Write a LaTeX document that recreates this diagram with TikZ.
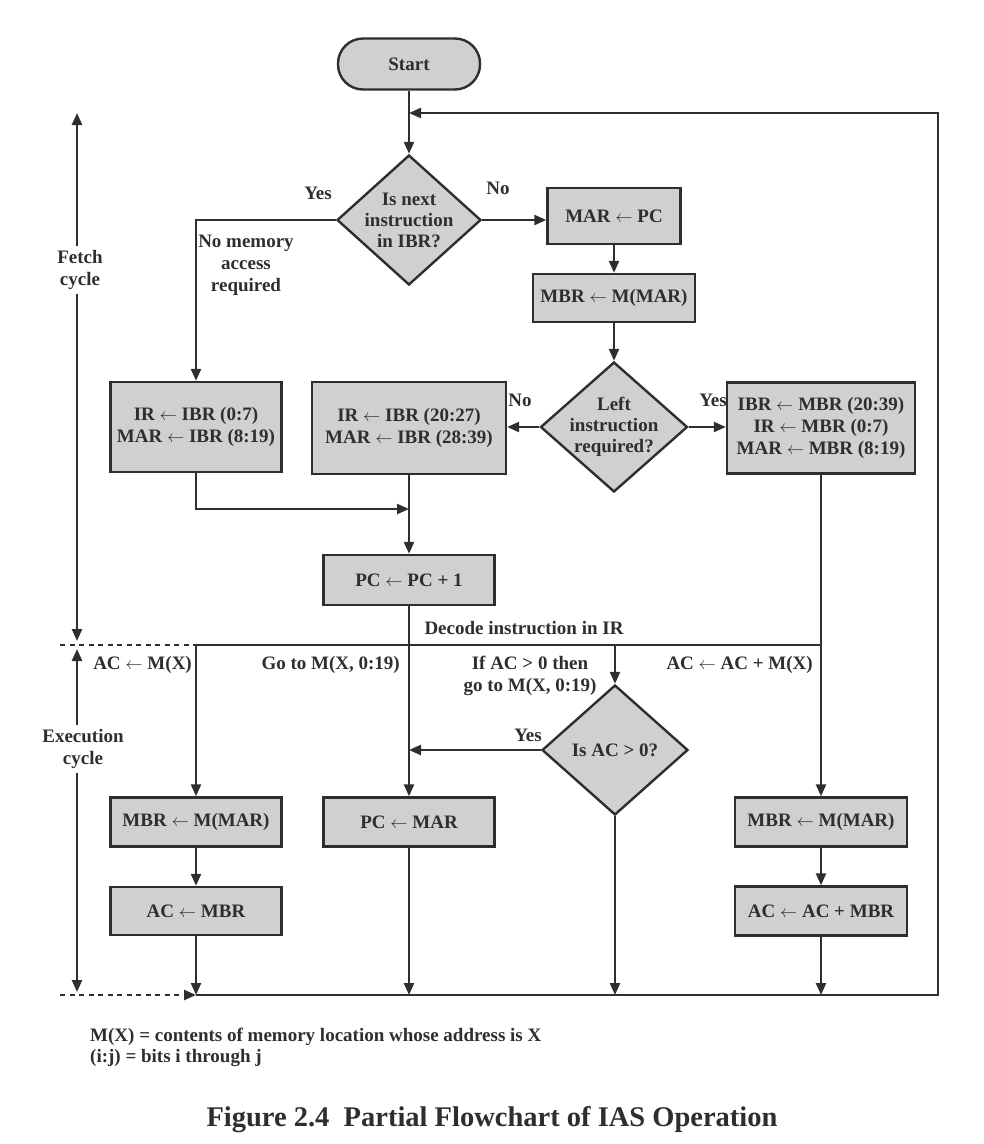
\documentclass[tikz,border=0pt]{standalone}
\usepackage{fontspec}
\setmainfont{Liberation Serif}
\usetikzlibrary{shapes.geometric,arrows.meta}
\definecolor{boxgray}{HTML}{D0D0D0}
\definecolor{ink}{HTML}{2E2E2E}
\begin{document}
\begin{tikzpicture}[x=1pt,y=-1pt,line width=2.4pt,draw=ink,
  txt/.style={font=\bfseries\fontsize{19}{22}\selectfont, text=ink, inner sep=1pt, align=center},
  box/.style={txt, draw=ink, fill=boxgray, minimum width=171pt, minimum height=49pt, inner sep=2pt},
  dia/.style={txt, font=\bfseries\fontsize{19}{21}\selectfont, shape=diamond, draw=ink, fill=boxgray, aspect=1.1, inner xsep=-6pt, inner ysep=-6pt, minimum width=146pt, minimum height=130pt},
  arr/.style={-{Triangle[length=12pt,width=10pt]}},
  dblarr/.style={{Triangle[length=12pt,width=10pt]}-{Triangle[length=12pt,width=10pt]}},
  dsh/.style={dash pattern=on 5pt off 4.5pt}
]
\useasboundingbox (0,0) rectangle (984,1144);

% ---- nodes ----
\node[txt, draw=ink, fill=boxgray, rounded corners=25pt, minimum width=142pt, minimum height=51pt] (start) at (409,64) {Start};
\node[dia, minimum width=144pt] (d1) at (409,220) {Is next\\instruction\\in IBR?};
\node[box, minimum width=133pt, minimum height=56pt] (marpc) at (614,216) {MAR $\leftarrow$ PC};
\node[box, minimum width=162pt, minimum height=48pt] (mbr1) at (614,298) {MBR $\leftarrow$ M(MAR)};
\node[dia, minimum width=147pt] (d2) at (614,427) {Left\\instruction\\required?};
\node[box, minimum width=171pt, minimum height=90pt] (ir1) at (196,427) {IR $\leftarrow$ IBR (0:7)\\MAR $\leftarrow$ IBR (8:19)};
\node[box, minimum width=194pt, minimum height=92pt] (ir2) at (409,428) {IR $\leftarrow$ IBR (20:27)\\MAR $\leftarrow$ IBR (28:39)};
\node[box, minimum width=188pt, minimum height=91pt] (ibr) at (821,428) {IBR $\leftarrow$ MBR (20:39)\\IR $\leftarrow$ MBR (0:7)\\MAR $\leftarrow$ MBR (8:19)};
\node[box, minimum height=50pt] (pc1) at (409,580) {PC $\leftarrow$ PC + 1};
\node[box] (mbrL) at (196,822) {MBR $\leftarrow$ M(MAR)};
\node[box, minimum height=48pt] (acL) at (196,911) {AC $\leftarrow$ MBR};
\node[box] (pcmar) at (409,822) {PC $\leftarrow$ MAR};
\node[dia] (d3) at (615,750) {Is AC > 0?};
\node[box, minimum width=172pt] (mbrR) at (821,822) {MBR $\leftarrow$ M(MAR)};
\node[box, minimum width=172pt] (acR) at (821,911) {AC $\leftarrow$ AC + MBR};

% ---- coordinates ----
\coordinate (ltop) at (409,113);
\coordinate (tR) at (938,113);
\coordinate (bR) at (938,995);
\coordinate (bL) at (196,995);
\coordinate (bM) at (409,995);
\coordinate (bD) at (615,995);
\coordinate (bRc) at (821,995);
\coordinate (join) at (409,509);
\coordinate (busL) at (196,645);
\coordinate (busM) at (409,645);
\coordinate (busD) at (615,645);
\coordinate (busR) at (821,645);
\coordinate (dashT) at (60,645);
\coordinate (dashB) at (60,995);
\coordinate (fT) at (77,113);
\coordinate (fB) at (77,641);
\coordinate (eT) at (77,649);
\coordinate (eB) at (77,992);

% ---- connectors ----
\draw[arr] (start.south) -- (d1.north);
\draw[arr] (d1.west) -| (ir1.north);
\draw[arr] (d1.east) -- (d1.east -| marpc.west);
\draw[arr] (marpc.south) -- (mbr1.north);
\draw[arr] (mbr1.south) -- (d2.north);
\draw[arr] (d2.west) -- (d2.west -| ir2.east);
\draw[arr] (d2.east) -- (d2.east -| ibr.west);
\draw[arr] (ir1.south) |- (join);
\draw[arr] (ir2.south) -- (pc1.north);
\draw (pc1.south) -- (busM);
\draw (busL) -- (busR);
\draw[arr] (ibr.south) -- (mbrR.north);
\draw[arr] (busL) -- (mbrL.north);
\draw[arr] (mbrL.south) -- (acL.north);
\draw[arr] (acL.south) -- (bL);
\draw[arr] (busM) -- (pcmar.north);
\draw[arr] (pcmar.south) -- (bM);
\draw[arr] (busD) -- (d3.north);
\draw[arr] (d3.west) -- (d3.west -| pcmar.north);
\draw[arr] (d3.south) -- (bD);
\draw[arr] (mbrR.south) -- (acR.north);
\draw[arr] (acR.south) -- (bRc);
\draw[arr] (bL) -- (bR) -- (tR) -- (ltop);
\draw[dsh] (dashT) -- (busL);
\draw[dsh, arr] (dashB) -- (bL);
\draw[dblarr] (fT) -- (fB);
\draw[dblarr] (eT) -- (eB);

% ---- labels ----
\node[txt, fill=white, inner sep=4pt] (fetch) at (80,270) {Fetch\\cycle};
\node[txt, fill=white, inner sep=4pt] (exec) at (83,749) {Execution\\cycle};
\node[txt] (yes1) at (318,193) {Yes};
\node[txt] (no1) at (498,188) {No};
\node[txt] (nomem) at (246,265) {No memory\\access\\required};
\node[txt] (no2) at (520,400) {No};
\node[txt] (yes2) at (713,400) {Yes};
\node[txt] (decode) at (524,628) {Decode instruction in IR};
\node[txt, anchor=east] (lab1) at (194,665) {AC $\leftarrow$ M(X)};
\node[txt, anchor=east] (lab2) at (402,665) {Go to M(X, 0:19)};
\node[txt] (lab3) at (530,676) {If AC > 0 then\\go to M(X, 0:19)};
\node[txt, anchor=east] (lab4) at (815,665) {AC $\leftarrow$ AC + M(X)};
\node[txt] (yes3) at (528,735) {Yes};
\node[txt, anchor=west, font=\bfseries\fontsize{19}{21}\selectfont] (fn1) at (88,1037) {M(X) = contents of memory location whose address is X};
\node[txt, anchor=west, font=\bfseries\fontsize{19}{21}\selectfont] (fn2) at (88,1058) {(i:j) = bits i through j};
\node[txt, font=\bfseries\fontsize{28.5}{30}\selectfont] (cap) at (492,1120) {Figure 2.4\ \ Partial Flowchart of IAS Operation};
\end{tikzpicture}
\end{document}
